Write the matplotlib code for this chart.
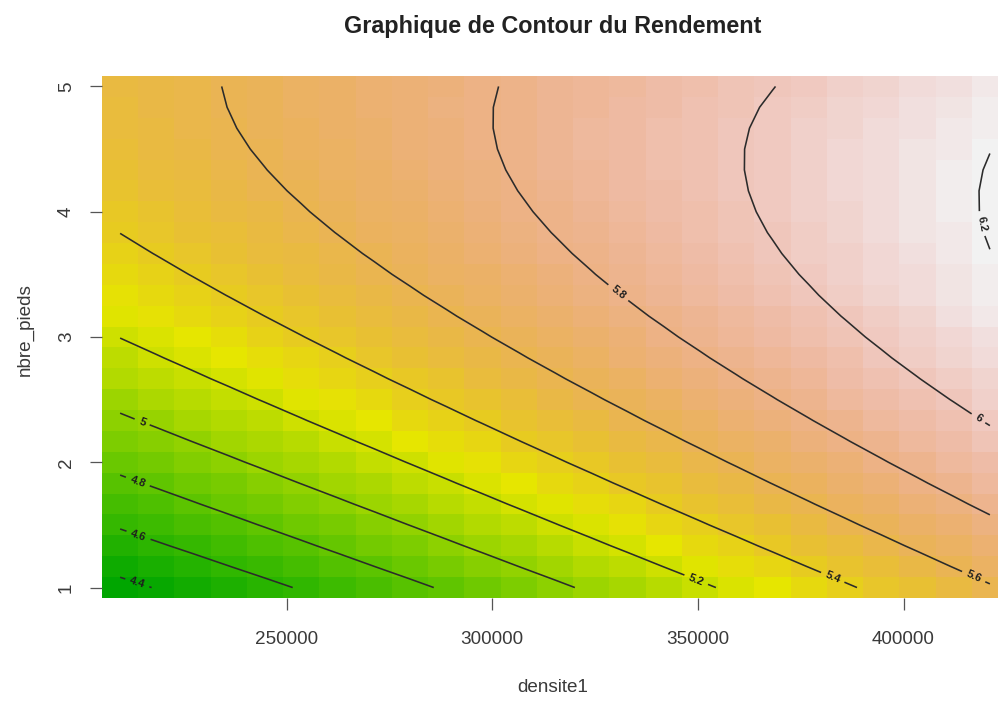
import colorsys
import numpy as np
import matplotlib
matplotlib.use("Agg")
import matplotlib.pyplot as plt
from matplotlib.colors import ListedColormap

# ---- data (read / estimated from the picture) ----
densite1 = np.linspace(209500, 421000, 25)      # grid of densite1 values
nbre_pieds = np.linspace(1, 5, 25)               # grid of nbre_pieds values

# fitted quadratic yield surface (coefficients estimated from the contour lines)
x_centre, x_scale, y_centre = 315000.0, 100000.0, 3.0
b0, bx, by = 5.6668, 0.4400, 0.2174
bxx, byy, bxy = 0.0, -0.0654, -0.0715

levels = [4.4, 4.6, 4.8, 5.0, 5.2, 5.4, 5.6, 5.8, 6.0, 6.2]
label_pos = [(213900, 1.06), (213900, 1.41), (213400, 1.81), (214600, 2.30),
             (349800, 1.08), (382900, 1.09), (417100, 1.09), (330800, 3.36),
             (418000, 2.34), (418300, 3.90)]

title = "Graphique de Contour du Rendement"
xlabel = "densite1"
ylabel = "nbre_pieds"
xticks = [250000, 300000, 350000, 400000]
yticks = [1, 2, 3, 4, 5]

# ---- surface on the grid ----
X, Y = np.meshgrid(densite1, nbre_pieds)
U = (X - x_centre) / x_scale
V = Y - y_centre
Z = b0 + bx * U + by * V + bxx * U**2 + byy * V**2 + bxy * U * V


def terrain_colors(n):
    k = n // 2
    h = (4 / 12, 2 / 12, 0.0)
    s = (1.0, 1.0, 0.0)
    v = (0.65, 0.9, 0.95)
    cols = []
    for hh, ss, vv in zip(np.linspace(h[0], h[1], k), np.linspace(s[0], s[1], k),
                          np.linspace(v[0], v[1], k)):
        cols.append(colorsys.hsv_to_rgb(hh, ss, vv))
    m = n - k + 1
    for hh, ss, vv in list(zip(np.linspace(h[1], h[2], m), np.linspace(s[1], s[2], m),
                               np.linspace(v[1], v[2], m)))[1:]:
        cols.append(colorsys.hsv_to_rgb(hh, ss, vv))
    return cols


cmap = ListedColormap(terrain_colors(100))

plt.rcParams["font.family"] = ["Liberation Sans", "DejaVu Sans"]

W, H = 998, 702
fig = plt.figure(figsize=(W / 100, H / 100), dpi=100)
left_px, right_px, top_px, bot_px = 102, 1008, 76, 598
ax = fig.add_axes([left_px / W, 1 - bot_px / H, (right_px - left_px) / W, (bot_px - top_px) / H])

dx = densite1[1] - densite1[0]
dy = nbre_pieds[1] - nbre_pieds[0]
ax.pcolormesh(densite1, nbre_pieds, Z, cmap=cmap, shading="nearest",
              vmin=Z.min(), vmax=Z.max())
cs = ax.contour(densite1, nbre_pieds, Z, levels=levels, colors="#2b2b2b", linewidths=1.15)
cs.clabel(levels, inline=True, inline_spacing=5, fontsize=8,
          fmt=lambda v: f"{v:g}", manual=label_pos)
for t in cs.labelTexts:
    t.set_color("#1e1e1e")
    t.set_fontweight("bold")

ax.set_xlim(densite1[0] - dx / 2, densite1[-1] + dx / 2)
ax.set_ylim(nbre_pieds[0] - dy / 2, nbre_pieds[-1] + dy / 2)

for sp in ax.spines.values():
    sp.set_visible(False)
ax.set_xticks(xticks)
ax.set_xticklabels([str(t) for t in xticks])
ax.set_yticks(yticks)
ax.set_yticklabels([str(t) for t in yticks], rotation=90, va="center")
ax.tick_params(direction="out", length=8.5, width=0.9, color="#555555",
               labelsize=13.6, labelcolor="#3a3a3a")
ax.tick_params(axis="x", pad=15)
ax.tick_params(axis="y", pad=11)

fig.text(553 / W, 1 - 27 / H, title, ha="center", va="center",
         fontsize=16.8, fontweight="bold", color="#222222")
fig.text(553 / W, 1 - 687 / H, xlabel, ha="center", va="center",
         fontsize=13.6, color="#3a3a3a")
fig.text(25 / W, 1 - 330 / H, ylabel, ha="center", va="center", rotation=90,
         fontsize=13.6, color="#3a3a3a")

fig.savefig("out.png", dpi=100)
